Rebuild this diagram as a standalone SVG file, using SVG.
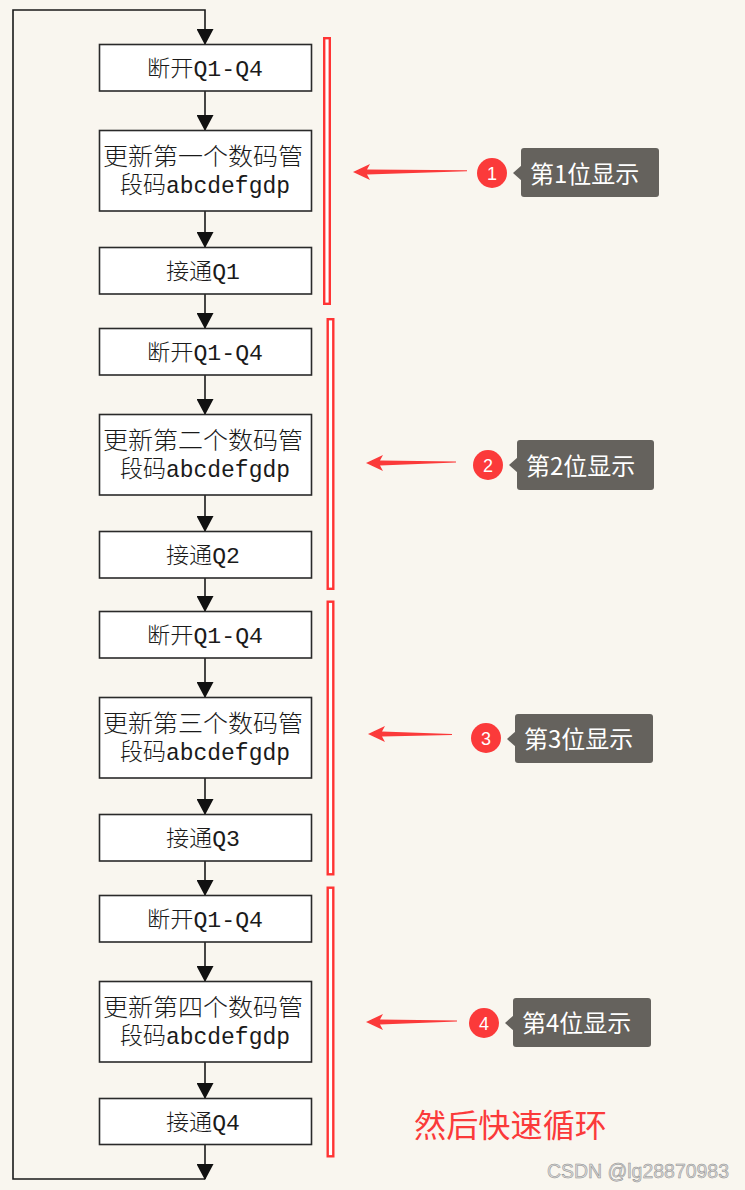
<svg xmlns="http://www.w3.org/2000/svg" width="745" height="1190" viewBox="0 0 745 1190">
<style>
.bg{fill:#f9f6ef}
.box rect{fill:#ffffff;stroke:#2a2a2a;stroke-width:1.6}
.box text{font-family:"Liberation Mono","Noto Sans CJK SC",monospace;font-weight:300;fill:#1a1a1a;text-anchor:start}
.conn{fill:none;stroke:#1a1a1a;stroke-width:1.6}
.brk{fill:#ffffff;stroke:#ff3434;stroke-width:2.4}
.rarrow{fill:#fb3a3a}
.badge circle{fill:#fb3a3a}
.badge text{font-family:"Liberation Sans","Noto Sans",sans-serif;font-size:18px;fill:#ffffff;text-anchor:middle}
.tip rect,.tip path{fill:#65625d}
.tip text{font-family:"Noto Sans CJK SC",sans-serif;font-size:24px;fill:#ffffff}
</style>
<defs>
<marker id="ah" markerUnits="userSpaceOnUse" markerWidth="17" markerHeight="17" refX="15" refY="8.5" orient="auto">
<path d="M0,0 L16,8.5 L0,17 Z" fill="#111111"/>
</marker>
</defs>
<rect class="bg" x="0" y="0" width="745" height="1190"/>

<g id="connectors">
<path class="conn" d="M205,1179 H13 V10 H205 V44" marker-end="url(#ah)"/>
<line class="conn" x1="205" y1="91" x2="205" y2="130" marker-end="url(#ah)"/>
<line class="conn" x1="205" y1="211" x2="205" y2="247" marker-end="url(#ah)"/>
<line class="conn" x1="205" y1="294" x2="205" y2="328" marker-end="url(#ah)"/>
<line class="conn" x1="205" y1="375" x2="205" y2="414" marker-end="url(#ah)"/>
<line class="conn" x1="205" y1="495" x2="205" y2="531" marker-end="url(#ah)"/>
<line class="conn" x1="205" y1="578" x2="205" y2="611" marker-end="url(#ah)"/>
<line class="conn" x1="205" y1="658" x2="205" y2="697" marker-end="url(#ah)"/>
<line class="conn" x1="205" y1="778" x2="205" y2="814" marker-end="url(#ah)"/>
<line class="conn" x1="205" y1="861" x2="205" y2="895" marker-end="url(#ah)"/>
<line class="conn" x1="205" y1="942" x2="205" y2="981" marker-end="url(#ah)"/>
<line class="conn" x1="205" y1="1062" x2="205" y2="1098" marker-end="url(#ah)"/>
<line class="conn" x1="205" y1="1144" x2="205" y2="1179" marker-end="url(#ah)"/>
</g>

<g id="n1" class="box"><rect x="99.5" y="44.5" width="212" height="46.5"/><text x="147" y="76" font-size="22" textLength="116" lengthAdjust="spacingAndGlyphs">断开Q1-Q4</text></g>
<g id="n2" class="box"><rect x="99.5" y="130.5" width="212" height="80.5"/><text x="103" y="165" font-size="24" textLength="200" lengthAdjust="spacingAndGlyphs">更新第一个数码管</text><text x="120" y="193" font-size="24" textLength="170" lengthAdjust="spacingAndGlyphs">段码abcdefgdp</text></g>
<g id="n3" class="box"><rect x="99.5" y="247.5" width="212" height="46.5"/><text x="166" y="279" font-size="22" textLength="74" lengthAdjust="spacingAndGlyphs">接通Q1</text></g>

<g id="n4" class="box"><rect x="99.5" y="328.5" width="212" height="46.5"/><text x="147" y="360" font-size="22" textLength="116" lengthAdjust="spacingAndGlyphs">断开Q1-Q4</text></g>
<g id="n5" class="box"><rect x="99.5" y="414.5" width="212" height="80.5"/><text x="103" y="449" font-size="24" textLength="200" lengthAdjust="spacingAndGlyphs">更新第二个数码管</text><text x="120" y="477" font-size="24" textLength="170" lengthAdjust="spacingAndGlyphs">段码abcdefgdp</text></g>
<g id="n6" class="box"><rect x="99.5" y="531.5" width="212" height="46.5"/><text x="166" y="563" font-size="22" textLength="74" lengthAdjust="spacingAndGlyphs">接通Q2</text></g>

<g id="n7" class="box"><rect x="99.5" y="611.5" width="212" height="46.5"/><text x="147" y="643" font-size="22" textLength="116" lengthAdjust="spacingAndGlyphs">断开Q1-Q4</text></g>
<g id="n8" class="box"><rect x="99.5" y="697.5" width="212" height="80.5"/><text x="103" y="732" font-size="24" textLength="200" lengthAdjust="spacingAndGlyphs">更新第三个数码管</text><text x="120" y="760" font-size="24" textLength="170" lengthAdjust="spacingAndGlyphs">段码abcdefgdp</text></g>
<g id="n9" class="box"><rect x="99.5" y="814.5" width="212" height="46.5"/><text x="166" y="846" font-size="22" textLength="74" lengthAdjust="spacingAndGlyphs">接通Q3</text></g>

<g id="n10" class="box"><rect x="99.5" y="895.5" width="212" height="46.5"/><text x="147" y="927" font-size="22" textLength="116" lengthAdjust="spacingAndGlyphs">断开Q1-Q4</text></g>
<g id="n11" class="box"><rect x="99.5" y="981.5" width="212" height="80.5"/><text x="103" y="1016" font-size="24" textLength="200" lengthAdjust="spacingAndGlyphs">更新第四个数码管</text><text x="120" y="1044" font-size="24" textLength="170" lengthAdjust="spacingAndGlyphs">段码abcdefgdp</text></g>
<g id="n12" class="box"><rect x="99.5" y="1098.5" width="212" height="46"/><text x="166" y="1130" font-size="22" textLength="74" lengthAdjust="spacingAndGlyphs">接通Q4</text></g>

<g id="brackets">
<rect class="brk" x="324.2" y="38.2" width="5.6" height="265.6"/>
<rect class="brk" x="327.7" y="319.2" width="5.6" height="269.6"/>
<rect class="brk" x="327.7" y="601.7" width="5.6" height="272.6"/>
<rect class="brk" x="327.7" y="887.7" width="5.6" height="268.6"/>
</g>

<g id="callout1">
<path class="rarrow" d="M353,172 L370,164 L367,169.5 L467,170.2 L467,171.2 L367,174.5 L370,180 Z"/>
<g class="badge"><circle cx="492" cy="173" r="15"/><text x="492" y="179.5">1</text></g>
<g class="tip"><path d="M513,173 L522,165 L522,181 Z"/><rect x="521" y="148" width="138" height="49" rx="3"/><text x="530" y="182.5">第1位显示</text></g>
</g>
<g id="callout2">
<path class="rarrow" d="M366,463 L383,455 L380,460.5 L456,461.5 L456,462.5 L380,465.5 L383,471 Z"/>
<g class="badge"><circle cx="488" cy="465" r="15"/><text x="488" y="471.5">2</text></g>
<g class="tip"><path d="M509,465 L518,457 L518,473 Z"/><rect x="517" y="440" width="137" height="50" rx="3"/><text x="526" y="474.5">第2位显示</text></g>
</g>
<g id="callout3">
<path class="rarrow" d="M368,734 L385,726 L382,731.5 L452,734 L452,735 L382,736.5 L385,742 Z"/>
<g class="badge"><circle cx="486" cy="738" r="15"/><text x="486" y="744.5">3</text></g>
<g class="tip"><path d="M507,739 L516,731 L516,747 Z"/><rect x="515" y="714" width="138" height="49" rx="3"/><text x="524" y="748">第3位显示</text></g>
</g>
<g id="callout4">
<path class="rarrow" d="M366,1022 L383,1014 L380,1019.5 L457,1020.5 L457,1021.5 L380,1024.5 L383,1030 Z"/>
<g class="badge"><circle cx="484" cy="1023" r="15"/><text x="484" y="1029.5">4</text></g>
<g class="tip"><path d="M505,1023 L514,1015 L514,1031 Z"/><rect x="513" y="998" width="138" height="49" rx="3"/><text x="522" y="1032">第4位显示</text></g>
</g>

<text x="414" y="1137" font-family="Noto Sans CJK SC,sans-serif" font-size="32" fill="#fb3a3a" textLength="193" lengthAdjust="spacingAndGlyphs">然后快速循环</text>
<text x="547" y="1178" font-family="Liberation Sans,Arial,sans-serif" font-size="19.5" fill="#dadada" stroke="#8c8c8c" stroke-width="0.5" textLength="182" lengthAdjust="spacingAndGlyphs">CSDN @lg28870983</text>
</svg>
